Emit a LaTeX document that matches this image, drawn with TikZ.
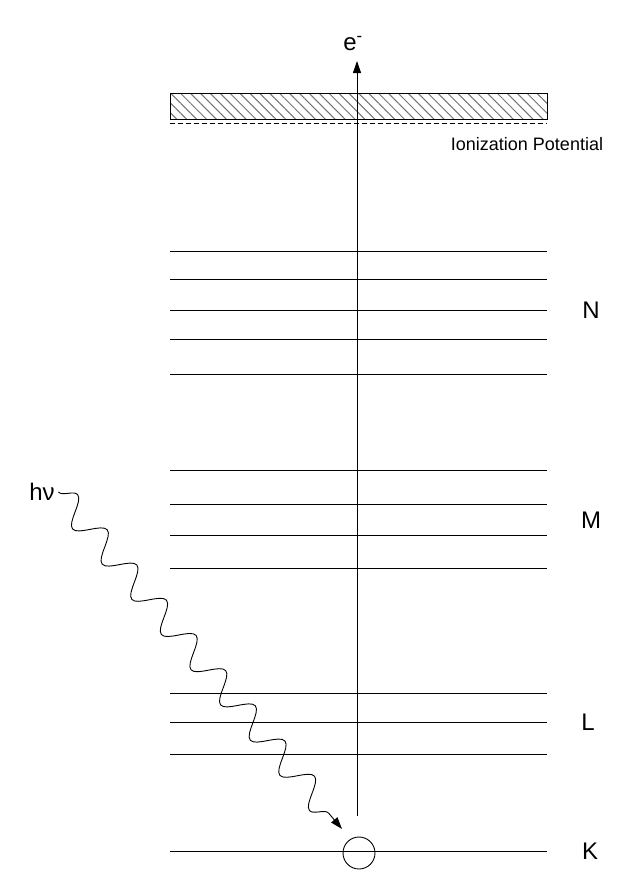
\documentclass[tikz,border=0pt]{standalone}
\usepackage{fontspec}
\setmainfont{Liberation Sans}
\usetikzlibrary{arrows.meta,patterns.meta,decorations.pathmorphing}
\begin{document}
\begin{tikzpicture}[x=1pt, y=-1pt, line width=0.9pt,
  lbl/.style={font=\fontsize{24}{26}\selectfont}]
\useasboundingbox (0,0) rectangle (629,873);
\coordinate (P) at (170,93);
\coordinate (Q) at (547,119);
\coordinate (B) at (357,816);
\coordinate (T) at (357,61);
\coordinate (X) at (342,829);
% continuum
\draw[pattern={Lines[angle=-45,distance=7pt,line width=1pt]}, pattern color=black!55] (P) rectangle (Q);
\draw[dash pattern=on 5pt off 3pt] (170,123) -- (547,123);
\node[font=\fontsize{18}{20}\selectfont] (I) at (527,144) {Ionization Potential};
% levels
\foreach \y in {251,279,310,339,374,470,504,535,568,693,722,754,851}
  \draw (170,\y) -- (547,\y);
\node[lbl] (N) at (591,310) {N};
\node[lbl] (M) at (591,520) {M};
\node[lbl] (L) at (588,722) {L};
\node[lbl] (K) at (590,851) {K};
\node[circle, draw, minimum size=32pt, inner sep=0pt] (C) at (359,853) {};
% electron
\node[lbl] (E) at (353,44) {e\textsuperscript{-}};
\draw[-{Triangle[length=12pt,width=8pt]}] (B) -- (T);
% photon
\node[lbl] (H) at (42,492) {hν};
\draw[-{Triangle[length=12pt,width=8pt]}, decorate,
  decoration={snake, segment length=46pt, amplitude=13pt, post length=12pt}]
  (H.east) -- (X);
\end{tikzpicture}
\end{document}
